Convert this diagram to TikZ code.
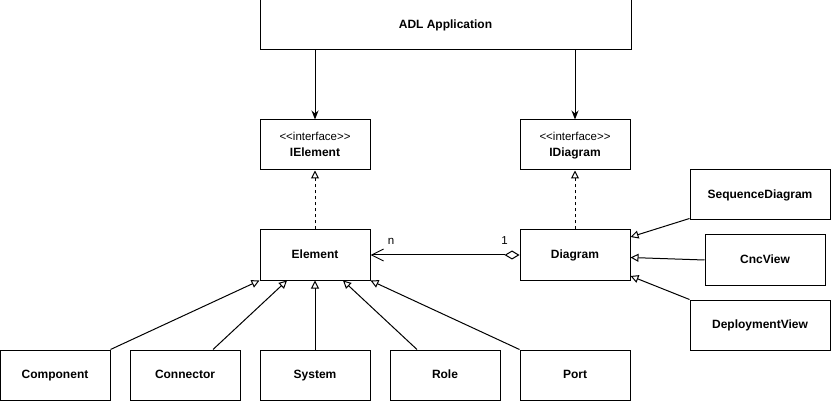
\documentclass[tikz,border=0pt]{standalone}
\usepackage{fontspec}
\setmainfont{Liberation Sans}
\usetikzlibrary{arrows.meta}
\begin{document}
\begin{tikzpicture}[x=1pt,y=-1pt,
  box/.style={draw, line width=1pt, minimum height=50pt, inner sep=0pt, text height=8.7pt, text depth=2.5pt, font=\fontsize{12}{14}\selectfont\bfseries, fill=white},
  conn/.style={line width=1pt},
  assoc/.style={conn, -{Stealth[length=9pt,width=7pt]}},
  real/.style={conn, dash pattern=on 3pt off 3pt, -{Triangle[open,length=8pt,width=8pt,line width=1pt,fill=white]}},
  gen/.style={conn, -{Triangle[open,length=8pt,width=8pt,line width=1pt,fill=white]}},
  lbl/.style={font=\fontsize{11.5}{13}\selectfont, inner sep=0pt},
  nm/.style={font=\fontsize{12}{14}\selectfont\bfseries, inner sep=0pt, text height=8.7pt, text depth=2.5pt}
]
\useasboundingbox (0,0) rectangle (831,401);
\node[box, minimum width=371pt] (adl) at (445.5,25) {ADL Application};
\node[box, minimum width=110pt] (ielem) at (315,145) {};
\node[lbl] (ielemst) at (315,136.5) {<{}<interface>{}>};
\node[nm] (ielemnm) at (315,153) {IElement};
\node[box, minimum width=110pt] (idiag) at (575,145) {};
\node[lbl] (idiagst) at (575,136.5) {<{}<interface>{}>};
\node[nm] (idiagnm) at (575,153) {IDiagram};
\node[box, minimum width=110pt] (element) at (315,255) {Element};
\node[box, minimum width=110pt] (diagram) at (575,255) {Diagram};
\node[box, minimum width=140pt] (seq) at (760,195) {SequenceDiagram};
\node[box, minimum width=120pt] (cnc) at (765,260) {CncView};
\node[box, minimum width=140pt] (dep) at (760,325) {DeploymentView};
\node[box, minimum width=110pt] (comp) at (55,375) {Component};
\node[box, minimum width=110pt] (connector) at (185,375) {Connector};
\node[box, minimum width=110pt] (system) at (315,375) {System};
\node[box, minimum width=110pt] (role) at (445,375) {Role};
\node[box, minimum width=110pt] (port) at (575,375) {Port};

\draw[assoc] (adl.south -| ielem.north) -- (ielem.north);
\draw[assoc] (adl.south -| idiag.north) -- (idiag.north);
\draw[real] (element.north) -- (ielem.south);
\draw[real] (diagram.north) -- (idiag.south);
\draw[conn, {Straight Barb[length=12pt,width=12pt,line width=1pt]}-{Diamond[open,length=15pt,width=9pt,line width=1pt,fill=white]}] (element.east) -- (diagram.west);
\node[lbl] (nlbl) at (391,241) {n};
\node[lbl] (onelbl) at (504.5,241) {1};

\draw[gen] (comp.north east) -- (element.south west);
\draw[gen] ([xshift=28pt]connector.north) -- ([xshift=27.5pt]element.south west);
\draw[gen] (system.north) -- (element.south);
\draw[gen] ([xshift=-28pt]role.north) -- ([xshift=-27.5pt]element.south east);
\draw[gen] (port.north west) -- (element.south east);

\draw[gen] ([yshift=2pt]seq.south west) -- ([yshift=18pt]diagram.east);
\draw[gen] (cnc.west) -- ([yshift=-2.5pt]diagram.east);
\draw[gen] (dep.north west) -- ([yshift=-21pt]diagram.east);
\end{tikzpicture}
\end{document}
